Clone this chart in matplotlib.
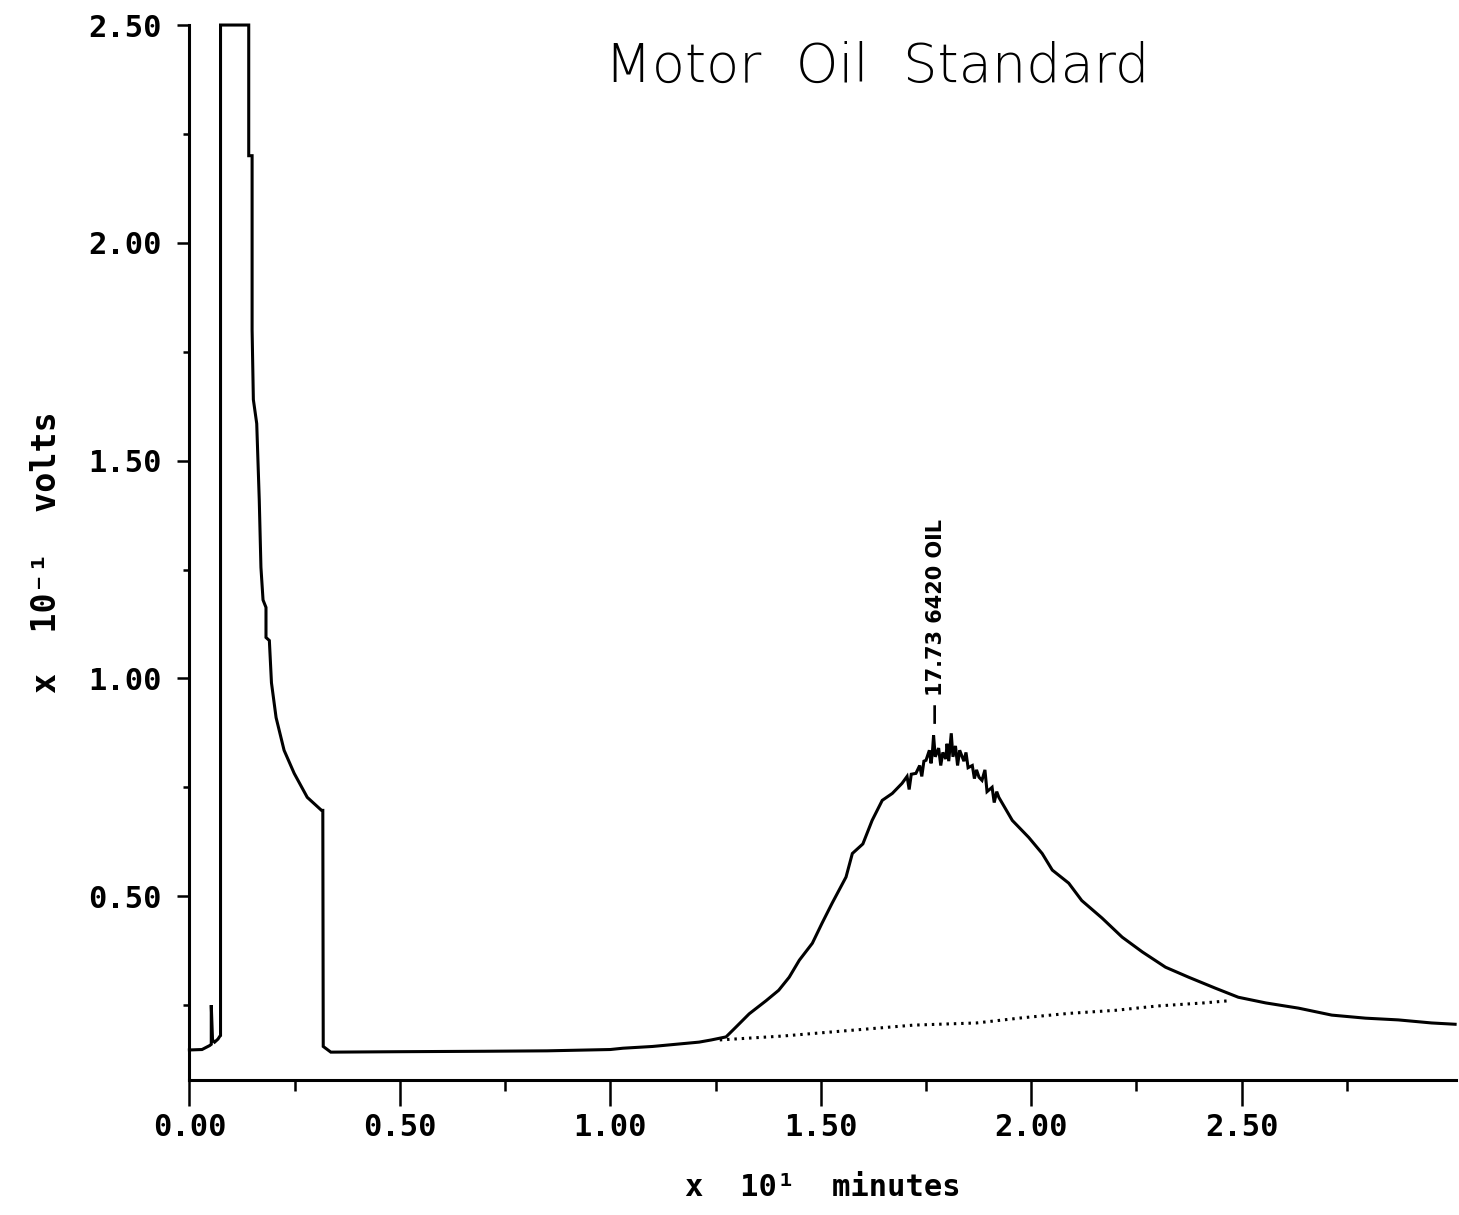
import matplotlib.pyplot as plt
from matplotlib.ticker import FixedLocator, FormatStrFormatter

# Chromatogram trace (time in x10 min, signal in x0.1 volts)
trace_time = [0.000, 0.030, 0.048, 0.052, 0.052, 0.055, 0.060, 0.068, 0.072, 0.074,
              0.074, 0.141, 0.141, 0.149, 0.149, 0.152, 0.160, 0.166, 0.170, 0.175,
              0.182, 0.182, 0.190, 0.195, 0.206, 0.225, 0.249, 0.280, 0.314, 0.317,
              0.318, 0.336, 0.500, 0.700, 0.850, 1.000, 1.030, 1.100, 1.211, 1.240,
              1.275, 1.299, 1.330, 1.370, 1.400, 1.425, 1.449, 1.480, 1.503, 1.527,
              1.560, 1.575, 1.600, 1.622, 1.646, 1.670, 1.693, 1.705, 1.710, 1.715,
              1.726, 1.735, 1.740, 1.745, 1.750, 1.758, 1.762, 1.765, 1.768, 1.772,
              1.780, 1.785, 1.790, 1.797, 1.800, 1.804, 1.810, 1.814, 1.820, 1.825,
              1.830, 1.840, 1.845, 1.850, 1.860, 1.865, 1.870, 1.876, 1.883, 1.890,
              1.895, 1.907, 1.912, 1.918, 1.923, 1.955, 1.994, 2.026, 2.050, 2.089,
              2.120, 2.168, 2.216, 2.264, 2.319, 2.374, 2.437, 2.492, 2.557, 2.635,
              2.714, 2.794, 2.872, 2.951, 3.007]
trace_volts = [0.147, 0.148, 0.157, 0.160, 0.250, 0.170, 0.165, 0.172, 0.178, 0.180,
               2.500, 2.500, 2.200, 2.200, 1.800, 1.640, 1.585, 1.410, 1.255, 1.180,
               1.163, 1.094, 1.087, 0.990, 0.910, 0.835, 0.782, 0.727, 0.697, 0.697,
               0.155, 0.142, 0.143, 0.144, 0.145, 0.148, 0.151, 0.155, 0.165, 0.170,
               0.177, 0.200, 0.230, 0.260, 0.284, 0.314, 0.353, 0.392, 0.438, 0.484,
               0.544, 0.598, 0.620, 0.674, 0.720, 0.736, 0.759, 0.775, 0.745, 0.780,
               0.782, 0.800, 0.775, 0.810, 0.812, 0.835, 0.805, 0.828, 0.869, 0.820,
               0.840, 0.800, 0.830, 0.815, 0.850, 0.810, 0.874, 0.820, 0.845, 0.800,
               0.835, 0.810, 0.830, 0.795, 0.800, 0.770, 0.790, 0.773, 0.766, 0.790,
               0.740, 0.750, 0.715, 0.740, 0.727, 0.674, 0.635, 0.598, 0.560, 0.530,
               0.490, 0.450, 0.406, 0.372, 0.337, 0.314, 0.289, 0.268, 0.255, 0.243,
               0.227, 0.220, 0.216, 0.209, 0.206]

# Dotted integration baseline under the oil hump
base_time = [1.26, 1.41, 1.72, 1.87, 1.98, 2.09, 2.20, 2.30, 2.41, 2.47]
base_volts = [0.170, 0.179, 0.204, 0.209, 0.221, 0.231, 0.238, 0.248, 0.255, 0.260]

# axis ticks as printed on the plotter output
x_major = [0.0, 0.5, 1.0, 1.5, 2.0, 2.5]
x_minor = [0.25, 0.75, 1.25, 1.75, 2.25, 2.75]
y_major = [0.5, 1.0, 1.5, 2.0, 2.5]
y_minor = [0.25, 0.75, 1.25, 1.75, 2.25]

peak_time = 1.773
peak_label = "\u2014 17.73 6420 OIL"

mono = ['DejaVu Sans Mono']

fig = plt.figure(figsize=(14.59, 12.15), dpi=100)
ax = fig.add_axes([0.1298, 0.1111, 0.8684, 0.8683])

ax.plot(trace_time, trace_volts, color='black', lw=2.2, clip_on=False,
        solid_joinstyle='miter')
ax.plot(base_time, base_volts, color='black', lw=2.2, linestyle=(0, (0.8, 1.6)))

# retention time label above the peak
ax.text(peak_time, 0.895, peak_label, rotation=90, ha='center', va='bottom',
        fontsize=15, fontweight='bold',
        family=['Liberation Sans Narrow', 'DejaVu Sans'])

ax.set_xlim(0, 3.01)
ax.set_ylim(0.078, 2.5)

for side in ['top', 'right']:
    ax.spines[side].set_visible(False)
ax.spines['left'].set_linewidth(2.2)
ax.spines['bottom'].set_linewidth(2.2)

ax.xaxis.set_major_locator(FixedLocator(x_major))
ax.xaxis.set_minor_locator(FixedLocator(x_minor))
ax.yaxis.set_major_locator(FixedLocator(y_major))
ax.yaxis.set_minor_locator(FixedLocator(y_minor))
ax.xaxis.set_major_formatter(FormatStrFormatter('%.2f'))
ax.yaxis.set_major_formatter(FormatStrFormatter('%.2f'))

ax.tick_params(axis='x', which='major', direction='out', length=19, width=1.8, pad=5)
ax.tick_params(axis='x', which='minor', direction='out', length=8, width=1.8)
ax.tick_params(axis='y', which='major', direction='out', length=9, width=1.8, pad=11)
ax.tick_params(axis='y', which='minor', direction='out', length=4, width=1.8)

for lab in ax.get_xticklabels() + ax.get_yticklabels():
    lab.set_family(mono)
    lab.set_fontsize(22)
    lab.set_fontweight('bold')

ax.set_xlabel("x  10\u00b9  minutes", family=mono, fontsize=22,
              fontweight='bold', labelpad=22)
ax.set_ylabel("x  10\u207b\u00b9  volts", family=mono, fontsize=24,
              fontweight='bold', labelpad=18)

# handwritten note on the chart
fig.text(0.601, 0.945, "Motor  Oil  Standard", fontsize=39, ha='center', va='center',
         family='DejaVu Sans', fontweight='light')

fig.savefig('out.png', dpi=100)
